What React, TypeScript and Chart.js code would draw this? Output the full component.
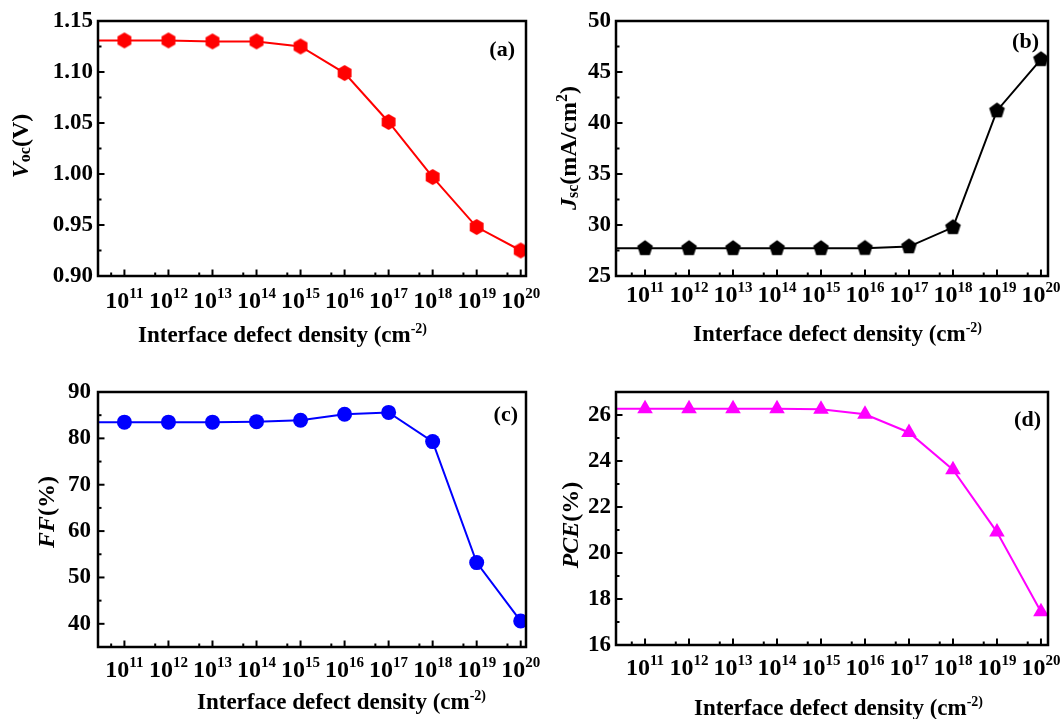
import React, { useEffect, useRef } from 'react';
import { Chart, registerables } from 'chart.js';

Chart.register(...registerables);

// ---------------- data ----------------
// interface defect density = 10^exponent (cm^-2)
const densityExponents = [10, 11, 12, 13, 14, 15, 16, 17, 18, 19, 20];
const xTickExponents = [11, 12, 13, 14, 15, 16, 17, 18, 19, 20];
const minorTickExponents = [10, 11, 12, 13, 14, 15, 16, 17, 18, 19]; // minor ticks at 5 x 10^n

const vocValues = [1.131, 1.131, 1.131, 1.130, 1.130, 1.125, 1.099, 1.051, 0.997, 0.948, 0.925];
const jscValues = [27.71, 27.71, 27.71, 27.71, 27.71, 27.71, 27.73, 27.88, 29.77, 41.21, 46.24];
const ffValues = [83.5, 83.5, 83.5, 83.5, 83.6, 83.9, 85.2, 85.6, 79.3, 53.2, 40.6];
const pceValues = [26.27, 26.27, 26.27, 26.27, 26.27, 26.25, 26.03, 25.24, 23.62, 20.91, 17.45];

const vocTicks = [0.9, 0.95, 1.0, 1.05, 1.1, 1.15];
const jscTicks = [25, 30, 35, 40, 45, 50];
const ffTicks = [40, 50, 60, 70, 80, 90];
const pceTicks = [16, 18, 20, 22, 24, 26];

const xTitleMain = 'Interface defect density (cm';
const xTitleSup = '-2)';

// ---------------- styling helpers ----------------
const FONT = '"Liberation Serif", "Times New Roman", Times, serif';
const W = 1064;
const H = 719;

type Seg = { t: string; size: number; italic?: boolean; dy?: number };

function segFont(s: Seg) {
  return `${s.italic ? 'italic ' : ''}bold ${s.size}px ${FONT}`;
}

function drawRich(ctx: CanvasRenderingContext2D, segs: Seg[], x: number, y: number, align: 'left' | 'center' | 'right') {
  let total = 0;
  const widths = segs.map((s) => {
    ctx.font = segFont(s);
    const w = ctx.measureText(s.t).width;
    total += w;
    return w;
  });
  let cx = align === 'center' ? x - total / 2 : align === 'right' ? x - total : x;
  ctx.textAlign = 'left';
  ctx.textBaseline = 'alphabetic';
  segs.forEach((s, i) => {
    ctx.font = segFont(s);
    ctx.fillText(s.t, cx, y + (s.dy || 0));
    cx += widths[i];
  });
}

function polygonMarker(sides: number, radius: number, color: string) {
  const size = Math.ceil(radius * 2) + 2;
  const c = document.createElement('canvas');
  c.width = size;
  c.height = size;
  const g = c.getContext('2d')!;
  g.fillStyle = color;
  g.beginPath();
  for (let k = 0; k < sides; k++) {
    const a = -Math.PI / 2 + (k * 2 * Math.PI) / sides;
    const px = size / 2 + radius * Math.cos(a);
    const py = size / 2 + radius * Math.sin(a);
    if (k === 0) g.moveTo(px, py);
    else g.lineTo(px, py);
  }
  g.closePath();
  g.fill();
  return c;
}

type PanelSpec = {
  area: { l: number; r: number; t: number; b: number };
  xMin: number; xMax: number;
  yMin: number; yMax: number;
  yTicks: number[]; decimals: number; tickPad: number;
  values: number[]; color: string; marker: 'hex' | 'pent' | 'circle' | 'triangle';
  yTitle: Seg[]; yTitleBase: number; yTitleCenter: number;
  xLabelBase: number; xTitleLeft: number; xTitleBase: number;
  tag: string; tagRight: number; tagBase: number;
};

const panels: PanelSpec[] = [
  {
    area: { l: 98, r: 526, t: 21, b: 276 },
    xMin: 10.4, xMax: 20.12, yMin: 0.9, yMax: 1.15,
    yTicks: vocTicks, decimals: 2, tickPad: 5,
    values: vocValues, color: '#ff0000', marker: 'hex',
    yTitle: [
      { t: 'V', size: 24, italic: true },
      { t: 'oc', size: 16, dy: 2 },
      { t: '(V)', size: 24 },
    ],
    yTitleBase: 28, yTitleCenter: 146,
    xLabelBase: 308, xTitleLeft: 138, xTitleBase: 342,
    tag: '(a)', tagRight: 515, tagBase: 56,
  },
  {
    area: { l: 616, r: 1048, t: 21, b: 276 },
    xMin: 10.34, xMax: 20.16, yMin: 25, yMax: 50,
    yTicks: jscTicks, decimals: 0, tickPad: 5,
    values: jscValues, color: '#000000', marker: 'pent',
    yTitle: [
      { t: 'J', size: 24, italic: true },
      { t: 'sc', size: 16, dy: 2 },
      { t: '(mA/cm', size: 24 },
      { t: '2', size: 16, dy: -9 },
      { t: ')', size: 24 },
    ],
    yTitleBase: 576, yTitleCenter: 148,
    xLabelBase: 302, xTitleLeft: 693, xTitleBase: 341,
    tag: '(b)', tagRight: 1039, tagBase: 48,
  },
  {
    area: { l: 98, r: 526, t: 392, b: 647 },
    xMin: 10.4, xMax: 20.12, yMin: 35, yMax: 90,
    yTicks: ffTicks, decimals: 0, tickPad: 7,
    values: ffValues, color: '#0000ff', marker: 'circle',
    yTitle: [
      { t: 'FF', size: 24, italic: true },
      { t: '(%)', size: 24 },
    ],
    yTitleBase: 54, yTitleCenter: 512,
    xLabelBase: 677, xTitleLeft: 197, xTitleBase: 709,
    tag: '(c)', tagRight: 518, tagBase: 421,
  },
  {
    area: { l: 616, r: 1048, t: 392, b: 645 },
    xMin: 10.34, xMax: 20.16, yMin: 16, yMax: 27,
    yTicks: pceTicks, decimals: 0, tickPad: 5,
    values: pceValues, color: '#ff00ff', marker: 'triangle',
    yTitle: [
      { t: 'PCE', size: 24, italic: true },
      { t: '(%)', size: 24 },
    ],
    yTitleBase: 578, yTitleCenter: 525,
    xLabelBase: 675, xTitleLeft: 694, xTitleBase: 715,
    tag: '(d)', tagRight: 1041, tagBase: 426,
  },
];

function Panel({ spec }: { spec: PanelSpec }) {
  const ref = useRef<HTMLCanvasElement>(null);

  useEffect(() => {
    const canvas = ref.current!;
    const area = spec.area;

    let pointStyle: any = 'circle';
    let pointRadius = 7.5;
    if (spec.marker === 'hex') pointStyle = polygonMarker(6, 8, spec.color);
    else if (spec.marker === 'pent') pointStyle = polygonMarker(5, 8.2, spec.color);
    else if (spec.marker === 'triangle') {
      pointStyle = 'triangle';
      pointRadius = 9;
    }

    const decor = {
      id: 'decor',
      afterDraw(chart: any) {
        const ctx: CanvasRenderingContext2D = chart.ctx;
        const { left, right, top, bottom } = chart.chartArea;
        const xs = chart.scales.x;
        const ys = chart.scales.y;
        ctx.save();
        ctx.strokeStyle = '#000';
        ctx.fillStyle = '#000';
        ctx.lineWidth = 2;
        const line = (x1: number, y1: number, x2: number, y2: number) => {
          ctx.beginPath();
          ctx.moveTo(x1, y1);
          ctx.lineTo(x2, y2);
          ctx.stroke();
        };
        // x ticks (inward)
        xTickExponents.forEach((e) => {
          const px = xs.getPixelForValue(Math.pow(10, e));
          line(px, bottom, px, bottom - 6.5);
        });
        minorTickExponents.forEach((e) => {
          const px = xs.getPixelForValue(5 * Math.pow(10, e));
          if (px > left + 1 && px < right - 1) line(px, bottom, px, bottom - 3.5);
        });
        // y ticks (inward)
        const yt = spec.yTicks;
        yt.forEach((v) => {
          const py = ys.getPixelForValue(v);
          line(left, py, left + 6.5, py);
        });
        const step = yt[1] - yt[0];
        const minors: number[] = [];
        for (let i = 0; i < yt.length - 1; i++) minors.push((yt[i] + yt[i + 1]) / 2);
        if (yt[0] - step / 2 > spec.yMin + 1e-9) minors.push(yt[0] - step / 2);
        if (yt[yt.length - 1] + step / 2 < spec.yMax - 1e-9) minors.push(yt[yt.length - 1] + step / 2);
        minors.forEach((v) => {
          const py = ys.getPixelForValue(v);
          line(left, py, left + 3.5, py);
        });
        // frame
        ctx.lineWidth = 2.5;
        ctx.strokeRect(left, top, right - left, bottom - top);

        // x tick labels with superscripts
        xTickExponents.forEach((e) => {
          const px = xs.getPixelForValue(Math.pow(10, e));
          drawRich(ctx, [
            { t: '10', size: 24 },
            { t: String(e), size: 15, dy: -10 },
          ], px, spec.xLabelBase, 'center');
        });
        // x title
        drawRich(ctx, [
          { t: xTitleMain, size: 23 },
          { t: xTitleSup, size: 14, dy: -9 },
        ], spec.xTitleLeft, spec.xTitleBase, 'left');
        // y title (rotated)
        ctx.save();
        ctx.translate(spec.yTitleBase, spec.yTitleCenter);
        ctx.rotate(-Math.PI / 2);
        drawRich(ctx, spec.yTitle, 0, 0, 'center');
        ctx.restore();
        // panel tag
        drawRich(ctx, [{ t: spec.tag, size: 22 }], spec.tagRight, spec.tagBase, 'right');
        ctx.restore();
      },
    };

    const chart = new Chart(canvas, {
      type: 'line',
      data: {
        datasets: [
          {
            data: densityExponents.map((e, i) => ({ x: Math.pow(10, e), y: spec.values[i] })),
            borderColor: spec.color,
            backgroundColor: spec.color,
            borderWidth: 2,
            pointStyle,
            pointRadius,
            pointBorderWidth: 0,
            pointBackgroundColor: spec.color,
            tension: 0,
            clip: { left: 0, right: 0, top: false, bottom: false } as any,
          },
        ],
      },
      options: {
        responsive: false,
        maintainAspectRatio: false,
        animation: false,
        devicePixelRatio: 1,
        events: [],
        layout: {
          padding: { left: 0, top: area.t, right: W - area.r, bottom: 0 },
        },
        plugins: {
          legend: { display: false },
          tooltip: { enabled: false },
        },
        scales: {
          x: {
            type: 'logarithmic',
            min: Math.pow(10, spec.xMin),
            max: Math.pow(10, spec.xMax),
            bounds: 'data',
            grid: { display: false, drawTicks: false },
            border: { display: false },
            ticks: { display: false },
            afterBuildTicks: (s: any) => {
              s.ticks = xTickExponents.map((e) => ({ value: Math.pow(10, e) }));
            },
            afterFit: (s: any) => {
              s.height = H - area.b;
            },
          },
          y: {
            type: 'linear',
            min: spec.yMin,
            max: spec.yMax,
            bounds: 'data',
            grid: { display: false, drawTicks: false },
            border: { display: false },
            afterBuildTicks: (s: any) => {
              s.ticks = spec.yTicks.map((v) => ({ value: v }));
            },
            ticks: {
              autoSkip: false,
              padding: spec.tickPad,
              color: '#000',
              font: { family: FONT, weight: 'bold', size: 23 },
              callback: (v: any) => Number(v).toFixed(spec.decimals),
            },
            afterFit: (s: any) => {
              s.width = area.l;
            },
          },
        },
      } as any,
      plugins: [decor],
    });
    return () => chart.destroy();
  }, [spec]);

  return (
    <canvas
      ref={ref}
      width={W}
      height={H}
      style={{ position: 'absolute', left: 0, top: 0, width: W, height: H }}
    />
  );
}

export default function App() {
  return (
    <div
      style={{
        position: 'fixed',
        left: 0,
        top: 0,
        width: W,
        height: H,
        background: '#ffffff',
        overflow: 'hidden',
      }}
    >
      {panels.map((p) => (
        <Panel key={p.tag} spec={p} />
      ))}
    </div>
  );
}
